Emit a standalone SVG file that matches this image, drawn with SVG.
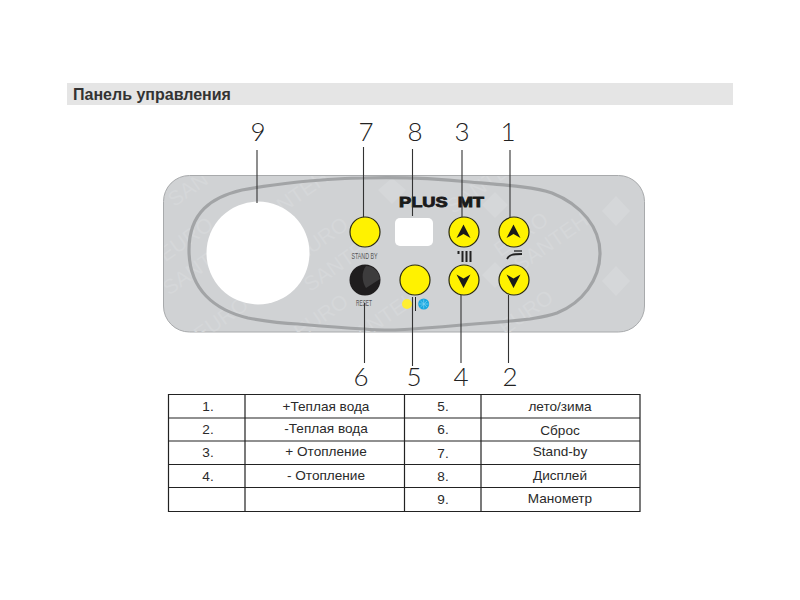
<svg xmlns="http://www.w3.org/2000/svg" width="800" height="600" viewBox="0 0 800 600">
<style>
.btn{fill:#fff200;stroke:#2a2a10;stroke-width:1.2}
.chev{fill:#1a1a1a}
.lead{stroke:#333;stroke-width:1.1;fill:none}
.num{font-family:"Lato","Open Sans",sans-serif;font-weight:300;font-size:26px;fill:#222;text-anchor:middle}
.cell{font-family:"Liberation Sans",Arial,sans-serif;font-size:13.600px;fill:#2a2a2a;text-anchor:middle}
.grid{stroke:#222;stroke-width:1.200;fill:none}
.wm{font-family:"Liberation Sans",Arial,sans-serif;font-size:21px;fill:#d5d7d9;text-anchor:middle}
.wl{fill:#d5d7d9}
.cap{font-family:"Liberation Sans",Arial,sans-serif;font-size:9.500px;fill:#555;text-anchor:middle}
</style>
<defs><clipPath id="panel-clip"><rect x="164" y="176" width="480" height="156" rx="26"/></clipPath></defs>
<rect width="800" height="600" fill="#fff"/>
<g id="header">
<rect x="67" y="83" width="666" height="22" fill="#e5e5e5"/>
<text x="73" y="100" font-family="'Liberation Sans',Arial,sans-serif" font-size="16" font-weight="700" fill="#333">Панель управления</text>
</g>
<g id="panel">
<rect x="163.500" y="175.500" width="481" height="156.500" rx="26" fill="#d0d2d4" stroke="#a8aaac" stroke-width="1"/>
<g id="watermark" clip-path="url(#panel-clip)">
<text class="wm" transform="translate(192 195) rotate(-35)">SAN</text>
<text class="wm" transform="translate(190 245) rotate(-35)">EURO</text>
<text class="wm" transform="translate(192 280) rotate(-35)">SANT</text>
<text class="wm" transform="translate(295 205) rotate(-35)">SANTEH</text>
<text class="wm" transform="translate(325 245) rotate(-35)">EURO</text>
<text class="wm" transform="translate(345 268) rotate(-35)">SANTEH</text>
<text class="wm" transform="translate(225 325) rotate(-35)">EURO</text>
<text class="wm" transform="translate(325 322) rotate(-35)">EURO</text>
<text class="wm" transform="translate(385 325) rotate(-35)">SANTEH</text>
<text class="wm" transform="translate(488 190) rotate(-35)">SANTEH</text>
<text class="wm" transform="translate(525 240) rotate(-35)">EURO</text>
<text class="wm" transform="translate(555 248) rotate(-35)">SANTEH</text>
<text class="wm" transform="translate(530 318) rotate(-35)">EURO</text>
<path class="wl" d="M602 211l14-15 14 15-14 15zM602 281l14-15 14 15-14 15zM378 190l14-12 14 12-14 14zM482 205l13-13 13 13-13 13zM482 275l13-13 13 13-13 13z"/>
</g>
<path d="M189 250C189 212 212 197 242 190C262 186 280 184 298 182C320 180 345 178 365 178C400 177 440 179 470 182C505 185 535 187 552 193C582 205 600 228 600 253C600 280 582 303 557 313C545 317 535 318 530 319C505 322 485 323 462 325C440 327 415 329 395 330C380 330 372 330 365 329C345 328 320 326 298 324C280 323 265 321 248 318C215 310 189 290 189 250Z" fill="none" stroke="#a2a4a6" stroke-width="3.200"/>
<g id="brand">
<text x="441.500" y="207" text-anchor="middle" font-family="'Liberation Sans',Arial,sans-serif" font-size="15" font-weight="700" fill="#1a1a1a" stroke="#1a1a1a" stroke-width=".9" word-spacing="4" textLength="85" lengthAdjust="spacingAndGlyphs">PLUS MT</text>
</g>
</g>
<g id="node-9"><circle cx="258" cy="253" r="51.500" fill="#fff"/></g>
<g id="node-8"><rect x="395" y="218" width="38" height="28" rx="5" fill="#fff"/></g>
<g id="node-7"><circle class="btn" cx="365" cy="232" r="15"/><text class="cap" x="364.500" y="258.500" textLength="26" lengthAdjust="spacingAndGlyphs">STAND BY</text></g>
<g id="node-6">
<circle cx="365" cy="280" r="15.500" fill="#1f1d1e"/>
<path d="M366 266C374 266 379 272 380 279L366 288C362 282 361 272 366 266Z" fill="#3d3c3d"/>
<text class="cap" x="364" y="305.500" textLength="16" lengthAdjust="spacingAndGlyphs">RESET</text>
</g>
<g id="node-5">
<circle class="btn" cx="415" cy="280" r="15"/>
<circle cx="407" cy="304" r="5" fill="#ffee33"/>
<circle cx="423.700" cy="304" r="5.500" fill="#18a8e0"/>
<path d="M419 304h9.500M423.700 299.500v9M420.500 301l6.500 6M427 301l-6.500 6" stroke="#7fd2f2" stroke-width=".7"/>
<path d="M415.500 297V311" stroke="#222" stroke-width="1"/>
</g>
<g id="node-3">
<circle class="btn" cx="464" cy="232" r="15"/>
<path class="chev" d="M463.500 224.500L470.500 238L463.500 234L456.500 238Z"/>
<path d="M457.500 251h2v3h-2zM461.500 251h2v11h-2zM465.500 251h2v11h-2zM469.500 251h2v11h-2z" fill="#222"/>
</g>
<g id="node-4"><circle class="btn" cx="464" cy="280" r="15"/><path class="chev" d="M463.500 288L470.500 274.500L463.500 278.500L456.500 274.500Z"/></g>
<g id="node-1">
<circle class="btn" cx="514" cy="232" r="15"/>
<path class="chev" d="M513.500 224.500L520.500 238L513.500 234L506.500 238Z"/>
<path d="M507 259C509 255 512 254 522 254" fill="none" stroke="#222" stroke-width="1.800"/>
<path d="M514 251h8" stroke="#222" stroke-width="1.300"/>
</g>
<g id="node-2"><circle class="btn" cx="514" cy="280" r="15"/><path class="chev" d="M513.500 288L520.500 274.500L513.500 278.500L506.500 274.500Z"/></g>
<g id="connectors">
<path class="lead" d="M257 150V203M363.500 147V217M412.500 149V216M462 150V217M510 150V217M364.500 303V363M412.500 297V366M461 295V363M508.500 295V363"/>
</g>
<g id="labels">
<text class="num" x="258" y="141">9</text>
<text class="num" x="366" y="141">7</text>
<text class="num" x="415" y="141">8</text>
<text class="num" x="462" y="141">3</text>
<text class="num" x="508" y="141">1</text>
<text class="num" x="361" y="386">6</text>
<text class="num" x="414" y="386">5</text>
<text class="num" x="461" y="386">4</text>
<text class="num" x="510" y="386">2</text>
</g>
<g id="table">
<path class="grid" d="M168.500 394.500H640V511.500H168.500ZM168.500 418H640M168.500 441H640M168.500 464.500H640M168.500 487.500H640M245 394.500V511.500M404.500 394.500V511.500M481 394.500V511.500M640 394.500V511.500"/>
<text class="cell" x="208" y="411">1.</text>
<text class="cell" x="326" y="411">+Теплая вода</text>
<text class="cell" x="443" y="411">5.</text>
<text class="cell" x="560" y="411">лето/зима</text>
<text class="cell" x="208" y="434">2.</text>
<text class="cell" x="326" y="433">-Теплая вода</text>
<text class="cell" x="443" y="434">6.</text>
<text class="cell" x="560" y="435">Сброс</text>
<text class="cell" x="208" y="457">3.</text>
<text class="cell" x="326" y="456">+ Отопление</text>
<text class="cell" x="443" y="458">7.</text>
<text class="cell" x="560" y="456">Stand-by</text>
<text class="cell" x="208" y="481">4.</text>
<text class="cell" x="326" y="480">- Отопление</text>
<text class="cell" x="443" y="481">8.</text>
<text class="cell" x="560" y="480">Дисплей</text>
<text class="cell" x="443" y="504">9.</text>
<text class="cell" x="560" y="503">Манометр</text>
</g>
</svg>
